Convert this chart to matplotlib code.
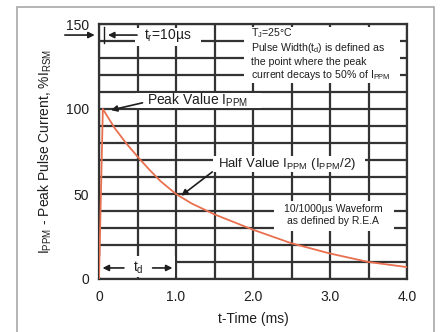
# 10/1000us pulse waveform chart (peak pulse current vs time)

import numpy as np
from matplotlib import pyplot as plt
from matplotlib.patches import Rectangle
from matplotlib.ticker import MultipleLocator, FixedLocator, FixedFormatter

plt.rcParams['font.family'] = ['Liberation Sans', 'DejaVu Sans']

# waveform
time_ms = [0, 0.05, 0.2, 0.35, 0.5, 0.65, 0.8, 1.0, 1.2, 1.5, 2.0, 2.5, 3.0, 3.5, 4.0]
pct_ippm = [0, 100, 89, 80, 72, 64.5, 57.5, 50, 44.5, 38, 29, 21, 15, 10, 7]

x_ticks = [0, 1, 2, 3, 4]
x_labels = ['0', '1.0', '2.0', '3.0', '4.0']
y_ticks = [0, 50, 100, 150]
y_labels = ['0', '50', '100', '150']

note_lines = ['T$\\mathregular{_J}$=25\u00b0C',
              'Pulse Width(t$\\mathregular{_d}$) is defined as',
              'the point where the peak',
              'current decays to 50% of $\\mathregular{I_{PPM}}$']
note_y = [144.7, 135.9, 127.6, 120]

grid_col = '#333333'
curve_col = '#e8704f'
txt_col = '#1e1e1e'

fig = plt.figure(figsize=(4.42, 3.32), dpi=100)
fig.patches.append(Rectangle((17/442, -0.05), (434-17)/442, 1.05 - 7/332,
                             transform=fig.transFigure, fill=False,
                             edgecolor='#a8a8a8', lw=1.2))
ax = fig.add_axes([99/442, 1 - 279/332, (407-99)/442, (279-24)/332])

ax.plot(time_ms, pct_ippm, color=curve_col, lw=1.3, zorder=3)

ax.set_xlim(0, 4)
ax.set_ylim(0, 150)
ax.xaxis.set_major_locator(FixedLocator(x_ticks))
ax.xaxis.set_major_formatter(FixedFormatter(x_labels))
ax.yaxis.set_major_locator(FixedLocator(y_ticks))
ax.yaxis.set_major_formatter(FixedFormatter(y_labels))
ax.xaxis.set_minor_locator(MultipleLocator(0.5))
ax.yaxis.set_minor_locator(MultipleLocator(10))
ax.grid(which='both', color=grid_col, lw=1.6)
ax.tick_params(which='both', length=0, labelsize=10, colors=txt_col)
ax.tick_params(axis='x', pad=8)
ax.tick_params(axis='y', pad=7)
for s in ax.spines.values():
    s.set_color(grid_col)
    s.set_linewidth(1.6)

ax.set_xlabel('t-Time (ms)', fontsize=10, color=txt_col)
ax.xaxis.set_label_coords(0.5, -0.13)
ax.set_ylabel(r'$\mathregular{I_{PPM}}$ - Peak Pulse Current, %$\mathregular{I_{RSM}}$',
              fontsize=10, color=txt_col, va='center')
ax.yaxis.set_label_coords(-0.175, 0.5)

# white patches where the labels break the grid
blanks = [(0.47, 137, 1.33, 147.5),   # t_r label
          (0.48, 100.8, 2.1, 109.5),  # peak value label
          (1.88, 115.5, 3.91, 148),   # note box
          (1.48, 63, 3.45, 72.5),     # half value label
          (2.27, 28.5, 3.83, 46),     # waveform note
          (0.01, 1.0, 0.985, 13.5)]   # t_d arrows
for x0, y0, x1, y1 in blanks:
    ax.add_patch(Rectangle((x0, y0), x1 - x0, y1 - y0, facecolor='white',
                           edgecolor='none', zorder=2.7))

arrow = dict(arrowstyle='-|>', color=txt_col, lw=1.2, mutation_scale=9)

# t_r marker
ax.annotate('', xy=(-0.02, 143.5), xytext=(-0.48, 143.5), arrowprops=arrow,
            annotation_clip=False, zorder=5)
ax.annotate('', xy=(0.08, 143.5), xytext=(0.53, 143.5), arrowprops=arrow, zorder=5)
ax.plot([0.07, 0.07], [139, 148], color=txt_col, lw=1.0, zorder=5)
ax.text(0.58, 143.5, r't$\mathregular{_r}$=10µs', fontsize=10, va='center',
        color=txt_col, zorder=5)

# peak value
ax.annotate('', xy=(0.12, 99), xytext=(0.6, 104), arrowprops=arrow, zorder=5)
ax.text(0.62, 105, r'Peak Value $\mathregular{I_{PPM}}$', fontsize=10, va='center',
        color=txt_col, zorder=5)

# half value
ax.annotate('', xy=(1.04, 48), xytext=(1.5, 64), arrowprops=arrow, zorder=5)
ax.text(1.55, 67.5, r'Half Value $\mathregular{I_{PPM}}$ ($\mathregular{I_{PPM}/2}$)',
        fontsize=9.5, va='center', color=txt_col, zorder=5)

# note box
for line, yy in zip(note_lines, note_y):
    ax.text(1.98, yy, line, fontsize=7.6, va='center', ha='left',
            color=txt_col, zorder=5)

ax.text(3.04, 37.5, '10/1000µs Waveform\nas defined by R.E.A', fontsize=7.5,
        ha='center', va='center', linespacing=1.2, color=txt_col, zorder=5)

# t_d arrows
ax.annotate('', xy=(0.01, 6.5), xytext=(0.36, 6.5), arrowprops=arrow, zorder=5)
ax.annotate('', xy=(0.99, 6.5), xytext=(0.66, 6.5), arrowprops=arrow, zorder=5)
ax.text(0.51, 6.5, r't$\mathregular{_d}$', fontsize=10, ha='center', va='center',
        color=txt_col, zorder=5)

fig.savefig('out.png', dpi=100)
